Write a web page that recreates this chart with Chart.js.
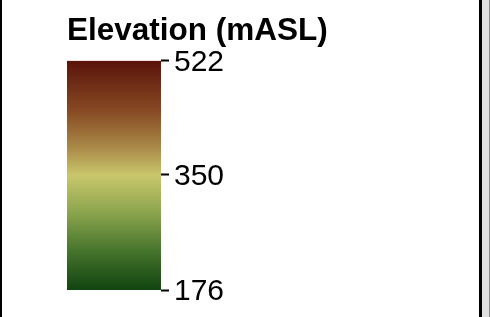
<!DOCTYPE html>
<html>
<head>
<meta charset="utf-8">
<title>Elevation legend</title>
<script src="https://cdn.jsdelivr.net/npm/chart.js@4"></script>
<style>
  html, body { margin: 0; padding: 0; background: #fff; }
  #wrap { position: relative; width: 490px; height: 317px; overflow: hidden; }
  #wrap canvas { position: absolute; left: 0; top: 0; }
  .edge { position: absolute; top: 0; height: 317px; }
</style>
</head>
<body>
<div id="wrap">
  <canvas id="legendChart" width="490" height="317"></canvas>
  <div class="edge" style="left:0;width:2px;background:#000"></div>
  <div class="edge" style="left:479px;width:3px;background:#000"></div>
  <div class="edge" style="left:482px;width:7px;background:#e0e0e0"></div>
  <div class="edge" style="left:489px;width:1px;background:#8a8a8a"></div>
</div>
<script>
// colour bar values
const categories = ["Elevation"];
const elevationRange = [176, 522];
const tickValues = [176, 350, 522];
const titleText = "Elevation (mASL)";

// palette, top (high) to bottom (low)
const palette = [
  [0.00, "#5a130b"],
  [0.22, "#874a24"],
  [0.38, "#aa8a48"],
  [0.50, "#c9c76b"],
  [0.66, "#8ca54e"],
  [0.84, "#42712a"],
  [1.00, "#114511"]
];

const FONT = "'Liberation Sans', Arial, sans-serif";

function barGradient(ctx) {
  const area = ctx.chart.chartArea;
  if (!area) return "#c9c76b";
  const g = ctx.chart.ctx.createLinearGradient(0, area.top, 0, area.bottom);
  palette.forEach(p => g.addColorStop(p[0], p[1]));
  return g;
}

new Chart(document.getElementById("legendChart"), {
  type: "bar",
  data: {
    labels: categories,
    datasets: [{
      data: [elevationRange],
      backgroundColor: barGradient,
      borderWidth: 0,
      barPercentage: 1,
      categoryPercentage: 1
    }]
  },
  options: {
    responsive: false,
    animation: false,
    layout: { padding: { left: 67, right: 0, top: 0, bottom: 27 } },
    plugins: {
      legend: { display: false },
      tooltip: { enabled: false },
      title: {
        display: true,
        text: titleText,
        align: "start",
        color: "#000",
        font: { family: FONT, size: 31.5, weight: "bold" },
        padding: { top: 12, bottom: 11 }
      }
    },
    scales: {
      x: { display: false },
      y: {
        position: "right",
        min: elevationRange[0],
        max: elevationRange[1],
        afterBuildTicks: scale => {
          scale.ticks = tickValues.map(v => ({ value: v }));
        },
        // wide axis keeps the bar narrow; labels stay next to the ticks
        afterFit: scale => { scale.width = 329; },
        border: { display: false },
        grid: {
          drawOnChartArea: false,
          drawTicks: true,
          tickLength: 8,
          tickWidth: 2,
          tickColor: "#000"
        },
        ticks: {
          color: "#000",
          padding: 5,
          labelOffset: 2,
          font: { family: FONT, size: 30 }
        }
      }
    }
  }
});
</script>
</body>
</html>
